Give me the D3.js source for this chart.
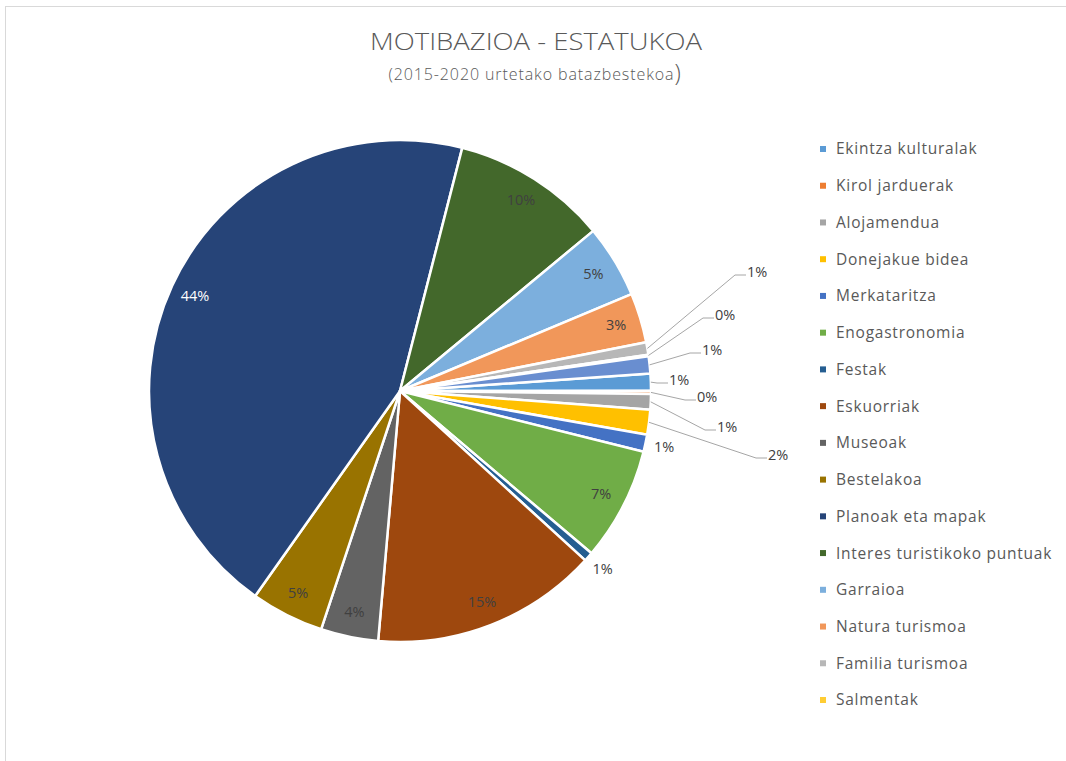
<!DOCTYPE html>
<html>
<head>
<meta charset="utf-8">
<script src="https://cdn.jsdelivr.net/npm/d3@7"></script>
<style>
  body { margin: 0; background: #fff; }
  svg { display: block; }
</style>
</head>
<body>
<div id="chart"></div>
<script>
// Data (share of each motivation, %)
var categories = ["Ekintza kulturalak", "Kirol jarduerak", "Alojamendua", "Donejakue bidea",
  "Merkataritza", "Enogastronomia", "Festak", "Eskuorriak", "Museoak", "Bestelakoa",
  "Planoak eta mapak", "Interes turistikoko puntuak", "Garraioa", "Natura turismoa",
  "Familia turismoa", "Salmentak", "Besteak"];
var values = [1.1, 0.2, 1.0, 1.6, 1.1, 7.3, 0.6, 14.6, 3.7, 4.7, 44.2, 10.0, 4.7, 3.2, 0.8, 0.1, 1.1];
// only the first 16 categories are shown in the legend (the 17th is cut off)
var legendCount = 16;

var palette = ["#5B9BD5", "#ED7D31", "#A5A5A5", "#FFC000", "#4472C4", "#70AD47",
  "#255E91", "#9E480E", "#636363", "#997300", "#264478", "#43682B",
  "#7CAFDD", "#F1975A", "#B7B7B7", "#FFCD33", "#698ED0"];

// small slices labelled outside with a leader line: text left x / middle y
var callouts = {
  "Familia turismoa": [747, 272],
  "Salmentak": [715, 315],
  "Besteak": [702, 350],
  "Ekintza kulturalak": [669, 380],
  "Kirol jarduerak": [697, 397],
  "Alojamendua": [717, 427],
  "Donejakue bidea": [768, 455]
};
// slices labelled just outside the edge, no leader line
var outsideNoLine = ["Merkataritza", "Festak"];

var svgWidth = 1066, svgHeight = 761;
var cx = 400, cy = 391, radius = 251;

var data = categories.map(function(c, i) { return { name: c, value: values[i] }; });
var total = d3.sum(values);
var pct = d3.format(".0%");

var color = d3.scaleOrdinal().domain(categories).range(palette);

var svg = d3.select("#chart").append("svg")
  .attr("width", svgWidth)
  .attr("height", svgHeight);

// chart area border
svg.append("rect")
  .attr("x", 5.5).attr("y", 6.5)
  .attr("width", 1100).attr("height", 800)
  .attr("fill", "none")
  .attr("stroke", "#d9d9d9");

// Title
svg.append("text")
  .attr("x", 536).attr("y", 50)
  .attr("text-anchor", "middle")
  .attr("font-family", "'Open Sans', Lato, sans-serif")
  .attr("font-weight", 300)
  .attr("font-size", 24)
  .attr("fill", "#595959")
  .attr("textLength", 332)
  .attr("lengthAdjust", "spacingAndGlyphs")
  .text("MOTIBAZIOA - ESTATUKOA");

var sub = svg.append("text")
  .attr("x", 535).attr("y", 80)
  .attr("text-anchor", "middle")
  .attr("font-family", "'Open Sans', sans-serif")
  .attr("font-weight", 300)
  .attr("font-size", 16)
  .attr("letter-spacing", "0.9px")
  .attr("fill", "#595959");
sub.append("tspan").text("(2015-2020 urtetako batazbestekoa");
sub.append("tspan").attr("font-size", 23).attr("dy", 1).text(")");

// Pie
var pie = d3.pie()
  .sort(null)
  .value(function(d) { return d.value; })
  .startAngle(86 * Math.PI / 180)
  .endAngle(86 * Math.PI / 180 + 2 * Math.PI);

var arcs = pie(data);

var arc = d3.arc().innerRadius(0).outerRadius(radius);
var labelArc = d3.arc().innerRadius(radius * 0.9).outerRadius(radius * 0.9);
var edgeArc = d3.arc().innerRadius(radius).outerRadius(radius);
var outArc = d3.arc().innerRadius(radius + 19).outerRadius(radius + 19);

var pieGroup = svg.append("g")
  .attr("transform", "translate(" + cx + "," + cy + ")");

pieGroup.selectAll("path.slice")
  .data(arcs)
  .enter()
  .append("path")
  .attr("class", "slice")
  .attr("d", arc)
  .attr("fill", function(d) { return color(d.data.name); })
  .attr("stroke", "#fff")
  .attr("stroke-width", 2.5)
  .attr("stroke-linejoin", "round");

function luminance(c) {
  var rgb = d3.rgb(c);
  var f = function(v) { v /= 255; return v <= 0.03928 ? v / 12.92 : Math.pow((v + 0.055) / 1.055, 2.4); };
  return 0.2126 * f(rgb.r) + 0.7152 * f(rgb.g) + 0.0722 * f(rgb.b);
}

var labelFont = "'Open Sans', sans-serif";

// inside labels
pieGroup.selectAll("text.inside")
  .data(arcs.filter(function(d) {
    return !callouts[d.data.name] && outsideNoLine.indexOf(d.data.name) < 0;
  }))
  .enter()
  .append("text")
  .attr("class", "inside")
  .attr("transform", function(d) { return "translate(" + labelArc.centroid(d) + ")"; })
  .attr("text-anchor", "middle")
  .attr("dy", "0.35em")
  .attr("font-family", labelFont)
  .attr("font-size", 14.5)
  .attr("fill", function(d) { return luminance(color(d.data.name)) < 0.08 ? "#ffffff" : "#404040"; })
  .text(function(d) { return pct(d.data.value / total); });

// outside labels without leader
pieGroup.selectAll("text.outside")
  .data(arcs.filter(function(d) { return outsideNoLine.indexOf(d.data.name) >= 0; }))
  .enter()
  .append("text")
  .attr("class", "outside")
  .attr("transform", function(d) { return "translate(" + outArc.centroid(d) + ")"; })
  .attr("text-anchor", "middle")
  .attr("dy", "0.35em")
  .attr("font-family", labelFont)
  .attr("font-size", 14.5)
  .attr("fill", "#404040")
  .text(function(d) { return pct(d.data.value / total); });

// callout labels with leader lines
var calloutArcs = arcs.filter(function(d) { return callouts[d.data.name]; });

pieGroup.selectAll("polyline.leader")
  .data(calloutArcs)
  .enter()
  .append("polyline")
  .attr("class", "leader")
  .attr("fill", "none")
  .attr("stroke", "#a6a6a6")
  .attr("stroke-width", 1)
  .attr("points", function(d) {
    var p = callouts[d.data.name];
    var tx = p[0] - cx, ty = p[1] - cy + 3;
    var e = edgeArc.centroid(d);
    return [e, [tx - 12, ty], [tx - 1, ty]].map(function(q) { return q.join(","); }).join(" ");
  });

pieGroup.selectAll("text.callout")
  .data(calloutArcs)
  .enter()
  .append("text")
  .attr("class", "callout")
  .attr("x", function(d) { return callouts[d.data.name][0] - cx; })
  .attr("y", function(d) { return callouts[d.data.name][1] - cy; })
  .attr("dy", "0.35em")
  .attr("font-family", labelFont)
  .attr("font-size", 14.5)
  .attr("fill", "#404040")
  .text(function(d) { return pct(d.data.value / total); });

// Legend
var legendY = d3.scalePoint()
  .domain(categories.slice(0, legendCount))
  .range([149, 700]);

var legend = svg.append("g").selectAll("g")
  .data(categories.slice(0, legendCount))
  .enter()
  .append("g")
  .attr("transform", function(d) { return "translate(820," + legendY(d) + ")"; });

legend.append("rect")
  .attr("x", 0).attr("y", -3)
  .attr("width", 6).attr("height", 6)
  .attr("fill", function(d) { return color(d); });

legend.append("text")
  .attr("x", 16)
  .attr("dy", "0.35em")
  .attr("font-family", labelFont)
  .attr("font-size", 15.5)
  .attr("letter-spacing", "0.75px")
  .attr("fill", "#595959")
  .text(function(d) { return d; });
</script>
</body>
</html>
